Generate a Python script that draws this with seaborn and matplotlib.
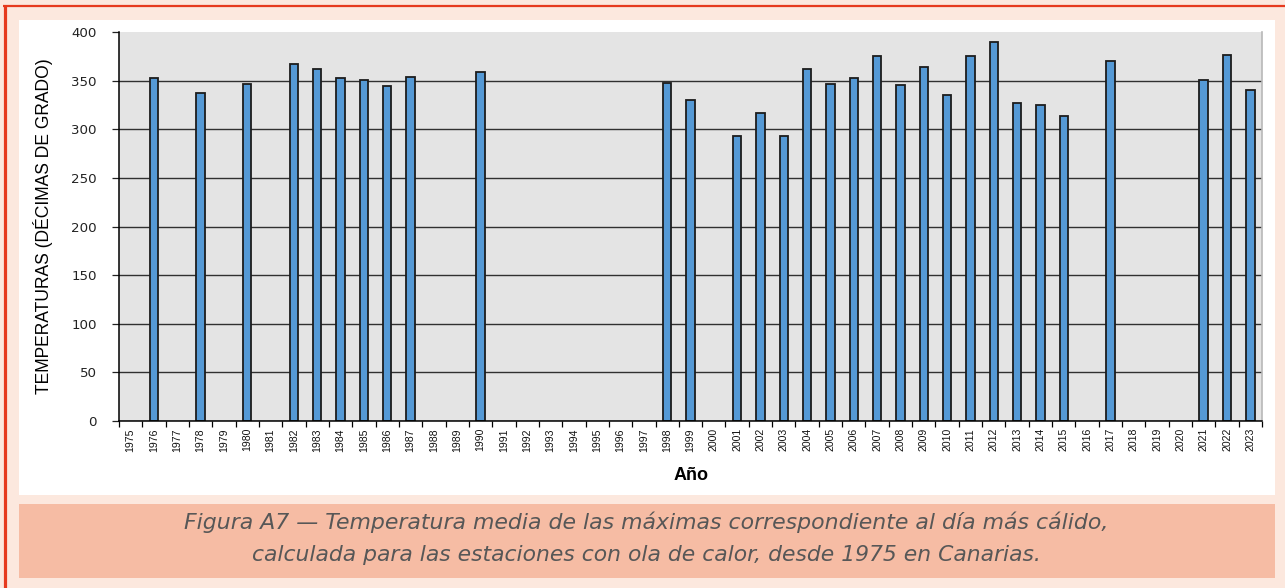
import matplotlib
matplotlib.use("Agg")
import numpy as np
import pandas as pd
import seaborn as sns
import matplotlib.pyplot as plt
from matplotlib.patches import Rectangle
from matplotlib.lines import Line2D
from matplotlib.ticker import FixedLocator
from matplotlib.transforms import blended_transform_factory

# ---- data -------------------------------------------------------------
years = [str(y) for y in range(1975, 2024)]
bar_years = ["1976", "1978", "1980", "1982", "1983", "1984", "1985", "1986",
             "1987", "1990", "1998", "1999", "2001", "2002", "2003", "2004",
             "2005", "2006", "2007", "2008", "2009", "2010", "2011", "2012",
             "2013", "2014", "2015", "2017", "2021", "2022", "2023"]
bar_values = [353, 337, 347, 367, 362, 353, 351, 344,
              354, 359, 348, 330, 293, 317, 293, 362,
              347, 353, 375, 346, 364, 335, 375, 390,
              327, 325, 314, 370, 351, 376, 340]
y_ticks = [0, 50, 100, 150, 200, 250, 300, 350, 400]

y_label = "TEMPERATURAS (DÉCIMAS DE GRADO)"
x_label = "Año"
caption_1 = "Figura A7 — Temperatura media de las máximas correspondiente al día más cálido,"
caption_2 = "calculada para las estaciones con ola de calor, desde 1975 en Canarias."

df = pd.DataFrame({"year": bar_years, "value": bar_values})

# ---- figure -----------------------------------------------------------
W, H = 1285, 588
fig = plt.figure(figsize=(W / 100, H / 100), dpi=100)
fig.patch.set_facecolor("#FCE8DE")


def px_rect(x0, y0, x1, y1, color):
    fig.patches.append(Rectangle((x0 / W, 1 - y1 / H), (x1 - x0) / W, (y1 - y0) / H,
                                 transform=fig.transFigure, facecolor=color,
                                 edgecolor="none", zorder=-5))


def px_line(xs, ys, color, lw):
    fig.lines.append(Line2D([x / W for x in xs], [1 - y / H for y in ys],
                            transform=fig.transFigure, color=color, lw=lw,
                            solid_capstyle="butt", zorder=-4))


px_rect(19, 20, 1275, 495, "white")
px_rect(19, 504, 1275, 578, "#F6BCA4")
px_line([3, W], [6, 6], "#E63A1E", 1.6)
px_line([4.8, 4.8], [5, H], "#E63A1E", 2.3)

ax_top, ax_bottom = 32, 421
ax = fig.add_axes([119 / W, 1 - ax_bottom / H, (1262 - 119) / W, (ax_bottom - ax_top) / H])
ax.set_facecolor("#E4E4E4")

sns.barplot(data=df, x="year", y="value", order=years, color="#5599D5",
            saturation=1, width=0.36, edgecolor="#1C1C1C", linewidth=1.3, ax=ax)

ax.set_xlim(-0.5, len(years) - 0.5)
ax.set_ylim(0, 400)
ax.set_yticks(y_ticks)
ax.set_yticklabels([str(v) for v in y_ticks])
ax.set_xlabel("")
ax.set_ylabel("")

ax.set_axisbelow(True)
ax.yaxis.grid(True, color="#303030", lw=1.0)
ax.xaxis.grid(False)
ax.get_ygridlines()[-1].set_visible(False)

ax.spines["top"].set_visible(False)
ax.spines["right"].set_color("#B8B8B8")
ax.spines["right"].set_linewidth(1.2)
ax.spines["left"].set_color("black")
ax.spines["left"].set_linewidth(1.1)
ax.spines["bottom"].set_color("black")
ax.spines["bottom"].set_linewidth(1.1)

# year labels: vertical text under each category, ticks on category boundaries
ax.tick_params(axis="x", which="major", length=0, labelbottom=False)
ax.xaxis.set_minor_locator(FixedLocator(np.arange(-0.5, len(years), 1.0)))
ax.tick_params(axis="x", which="minor", length=4, width=0.9, direction="out",
               color="black")
year_tf = blended_transform_factory(ax.transData, fig.transFigure)
for i, yr in enumerate(years):
    fig.text(i, 1 - 428 / H, yr, transform=year_tf, rotation="vertical",
             rotation_mode="default", ha="center", va="top", fontsize=7.6,
             family="Liberation Sans", color="#111111")

ax.tick_params(axis="y", which="major", length=5, width=0.9, direction="out",
               pad=11, colors="#222222")
plt.setp(ax.get_yticklabels(), fontsize=9.6, family="DejaVu Sans")

# ---- texts ------------------------------------------------------------
ylab = fig.text(43 / W, 1 - 226 / H, y_label, rotation=90, ha="center",
                va="center", fontsize=11.5, family="Liberation Sans",
                color="black")
fig.text(691 / W, 1 - 476 / H, x_label, ha="center", va="center",
         fontsize=13, fontweight="bold", family="Liberation Sans", color="black")
cap1 = fig.text(646 / W, 1 - 529 / H, caption_1, ha="center", va="baseline",
                fontsize=14, style="italic", family="DejaVu Sans", color="#575757")
cap2 = fig.text(646 / W, 1 - 561 / H, caption_2, ha="center", va="baseline",
                fontsize=14, style="italic", family="DejaVu Sans", color="#575757")

# scale a few texts so their length fits the space they are set in
renderer = fig.canvas.get_renderer()


def fit_length(t, target_px, vertical=False):
    bb = t.get_window_extent(renderer)
    cur = bb.height if vertical else bb.width
    t.set_fontsize(t.get_fontsize() * target_px / cur)


fit_length(ylab, 338, vertical=True)
fit_length(cap1, 926)
fit_length(cap2, 793)

fig.savefig("out.png", dpi=100, facecolor=fig.get_facecolor())
